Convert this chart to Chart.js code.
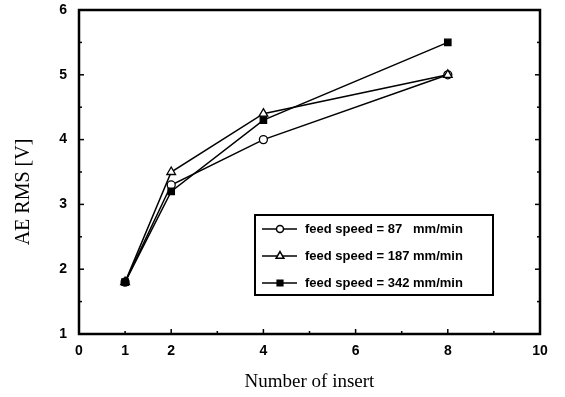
<!DOCTYPE html>
<html>
<head>
<meta charset="utf-8">
<script src="https://cdn.jsdelivr.net/npm/chart.js@4"></script>
<style>
  html, body { margin: 0; padding: 0; background: #fff; }
  #wrap { width: 565px; height: 397px; }
</style>
</head>
<body>
<div id="wrap"><canvas id="chart" width="565" height="397"></canvas></div>
<script>
// Data
const inserts = [1, 2, 4, 8];
const feed87 = [1.8, 3.3, 4.0, 5.0];
const feed187 = [1.8, 3.5, 4.4, 5.0];
const feed342 = [1.8, 3.2, 4.3, 5.5];
const seriesLabels = ['feed speed = 87   mm/min', 'feed speed = 187 mm/min', 'feed speed = 342 mm/min'];
const xTickValues = [0, 1, 2, 4, 6, 8, 10];
const yTickValues = [1, 2, 3, 4, 5, 6];
const yTitle = 'AE RMS [V]';

const toPoints = (ys) => inserts.map((x, i) => ({ x, y: ys[i] }));

// Frame, inward ticks, y title and the legend box
const framePlugin = {
  id: 'frame',
  afterDraw(chart) {
    const { ctx, chartArea: a, scales } = chart;
    ctx.save();
    ctx.strokeStyle = '#000';
    ctx.lineWidth = 1.5;
    for (let v = 0; v <= 10; v++) {
      const px = scales.x.getPixelForValue(v);
      const len = v % 2 === 0 ? 5 : 3;
      ctx.beginPath(); ctx.moveTo(px, a.bottom); ctx.lineTo(px, a.bottom - len); ctx.stroke();
    }
    for (let v = 1; v <= 6; v += 0.5) {
      const py = scales.y.getPixelForValue(v);
      const len = Number.isInteger(v) ? 5 : 3;
      ctx.beginPath(); ctx.moveTo(a.left, py); ctx.lineTo(a.left + len, py); ctx.stroke();
      ctx.beginPath(); ctx.moveTo(a.right, py); ctx.lineTo(a.right - len, py); ctx.stroke();
    }
    ctx.lineWidth = 2.5;
    ctx.strokeRect(a.left, a.top, a.right - a.left, a.bottom - a.top);

    // y axis title, sits a bit below the middle in the original
    ctx.save();
    ctx.translate(24, 192);
    ctx.rotate(-Math.PI / 2);
    ctx.fillStyle = '#000';
    ctx.font = '20px "Liberation Serif", "Times New Roman", serif';
    ctx.textAlign = 'center';
    ctx.textBaseline = 'middle';
    ctx.fillText(yTitle, 0, 0);
    ctx.restore();

    // legend
    const lx = 255, ly = 215, lw = 238, lh = 80;
    ctx.fillStyle = '#fff';
    ctx.fillRect(lx, ly, lw, lh);
    ctx.lineWidth = 2;
    ctx.strokeStyle = '#000';
    ctx.strokeRect(lx, ly, lw, lh);
    chart.data.datasets.forEach((ds, i) => {
      const y = ly + 14 + i * 27;
      ctx.strokeStyle = '#000';
      ctx.lineWidth = 1.5;
      ctx.beginPath(); ctx.moveTo(lx + 7, y); ctx.lineTo(lx + 42, y); ctx.stroke();
      ctx.fillStyle = ds.pointBackgroundColor;
      Chart.helpers.drawPoint(ctx, {
        pointStyle: ds.pointStyle, radius: ds.pointRadius - 0.5, borderWidth: 1.3
      }, lx + 25, y);
      ctx.fillStyle = '#000';
      ctx.font = 'bold 13px "Liberation Sans", Arial, sans-serif';
      ctx.textBaseline = 'middle';
      ctx.textAlign = 'left';
      ctx.fillText(seriesLabels[i], lx + 50, y);
    });
    ctx.restore();
  }
};

const common = {
  borderColor: '#000',
  borderWidth: 1.5,
  pointBorderColor: '#000',
  pointBorderWidth: 1.3,
  tension: 0,
  fill: false
};

new Chart(document.getElementById('chart'), {
  type: 'line',
  data: {
    datasets: [
      { ...common, label: seriesLabels[0], data: toPoints(feed87), order: 2, pointStyle: 'circle', pointRadius: 4, pointBackgroundColor: '#fff' },
      { ...common, label: seriesLabels[1], data: toPoints(feed187), order: 1, pointStyle: 'triangle', pointRadius: 5, pointBackgroundColor: '#fff' },
      { ...common, label: seriesLabels[2], data: toPoints(feed342), order: 0, pointStyle: 'rect', pointRadius: 4.5, pointBackgroundColor: '#000' }
    ]
  },
  options: {
    responsive: false,
    animation: false,
    layout: { padding: { left: 0, top: 10, right: 25, bottom: 0 } },
    plugins: { legend: { display: false }, tooltip: { enabled: false } },
    scales: {
      x: {
        type: 'linear', min: 0, max: 10,
        afterBuildTicks: (s) => { s.ticks = xTickValues.map(v => ({ value: v })); },
        afterFit: (s) => { s.height = 63; s.paddingLeft = 0; s.paddingRight = 0; },
        grid: { display: false, drawTicks: false },
        border: { display: false },
        ticks: { color: '#000', padding: 9, font: { family: '"Liberation Sans", Arial, sans-serif', size: 14, weight: 'bold' } },
        title: { display: true, text: 'Number of insert', color: '#000', padding: { top: 0 },
          font: { family: '"Liberation Serif", "Times New Roman", serif', size: 19 } }
      },
      y: {
        type: 'linear', min: 1, max: 6,
        afterBuildTicks: (s) => { s.ticks = yTickValues.map(v => ({ value: v })); },
        afterFit: (s) => { s.width = 79; s.paddingTop = 0; s.paddingBottom = 0; },
        grid: { display: false, drawTicks: false },
        border: { display: false },
        ticks: { color: '#000', padding: 12, font: { family: '"Liberation Sans", Arial, sans-serif', size: 14, weight: 'bold' } }
      }
    }
  },
  plugins: [framePlugin]
});
</script>
</body>
</html>
